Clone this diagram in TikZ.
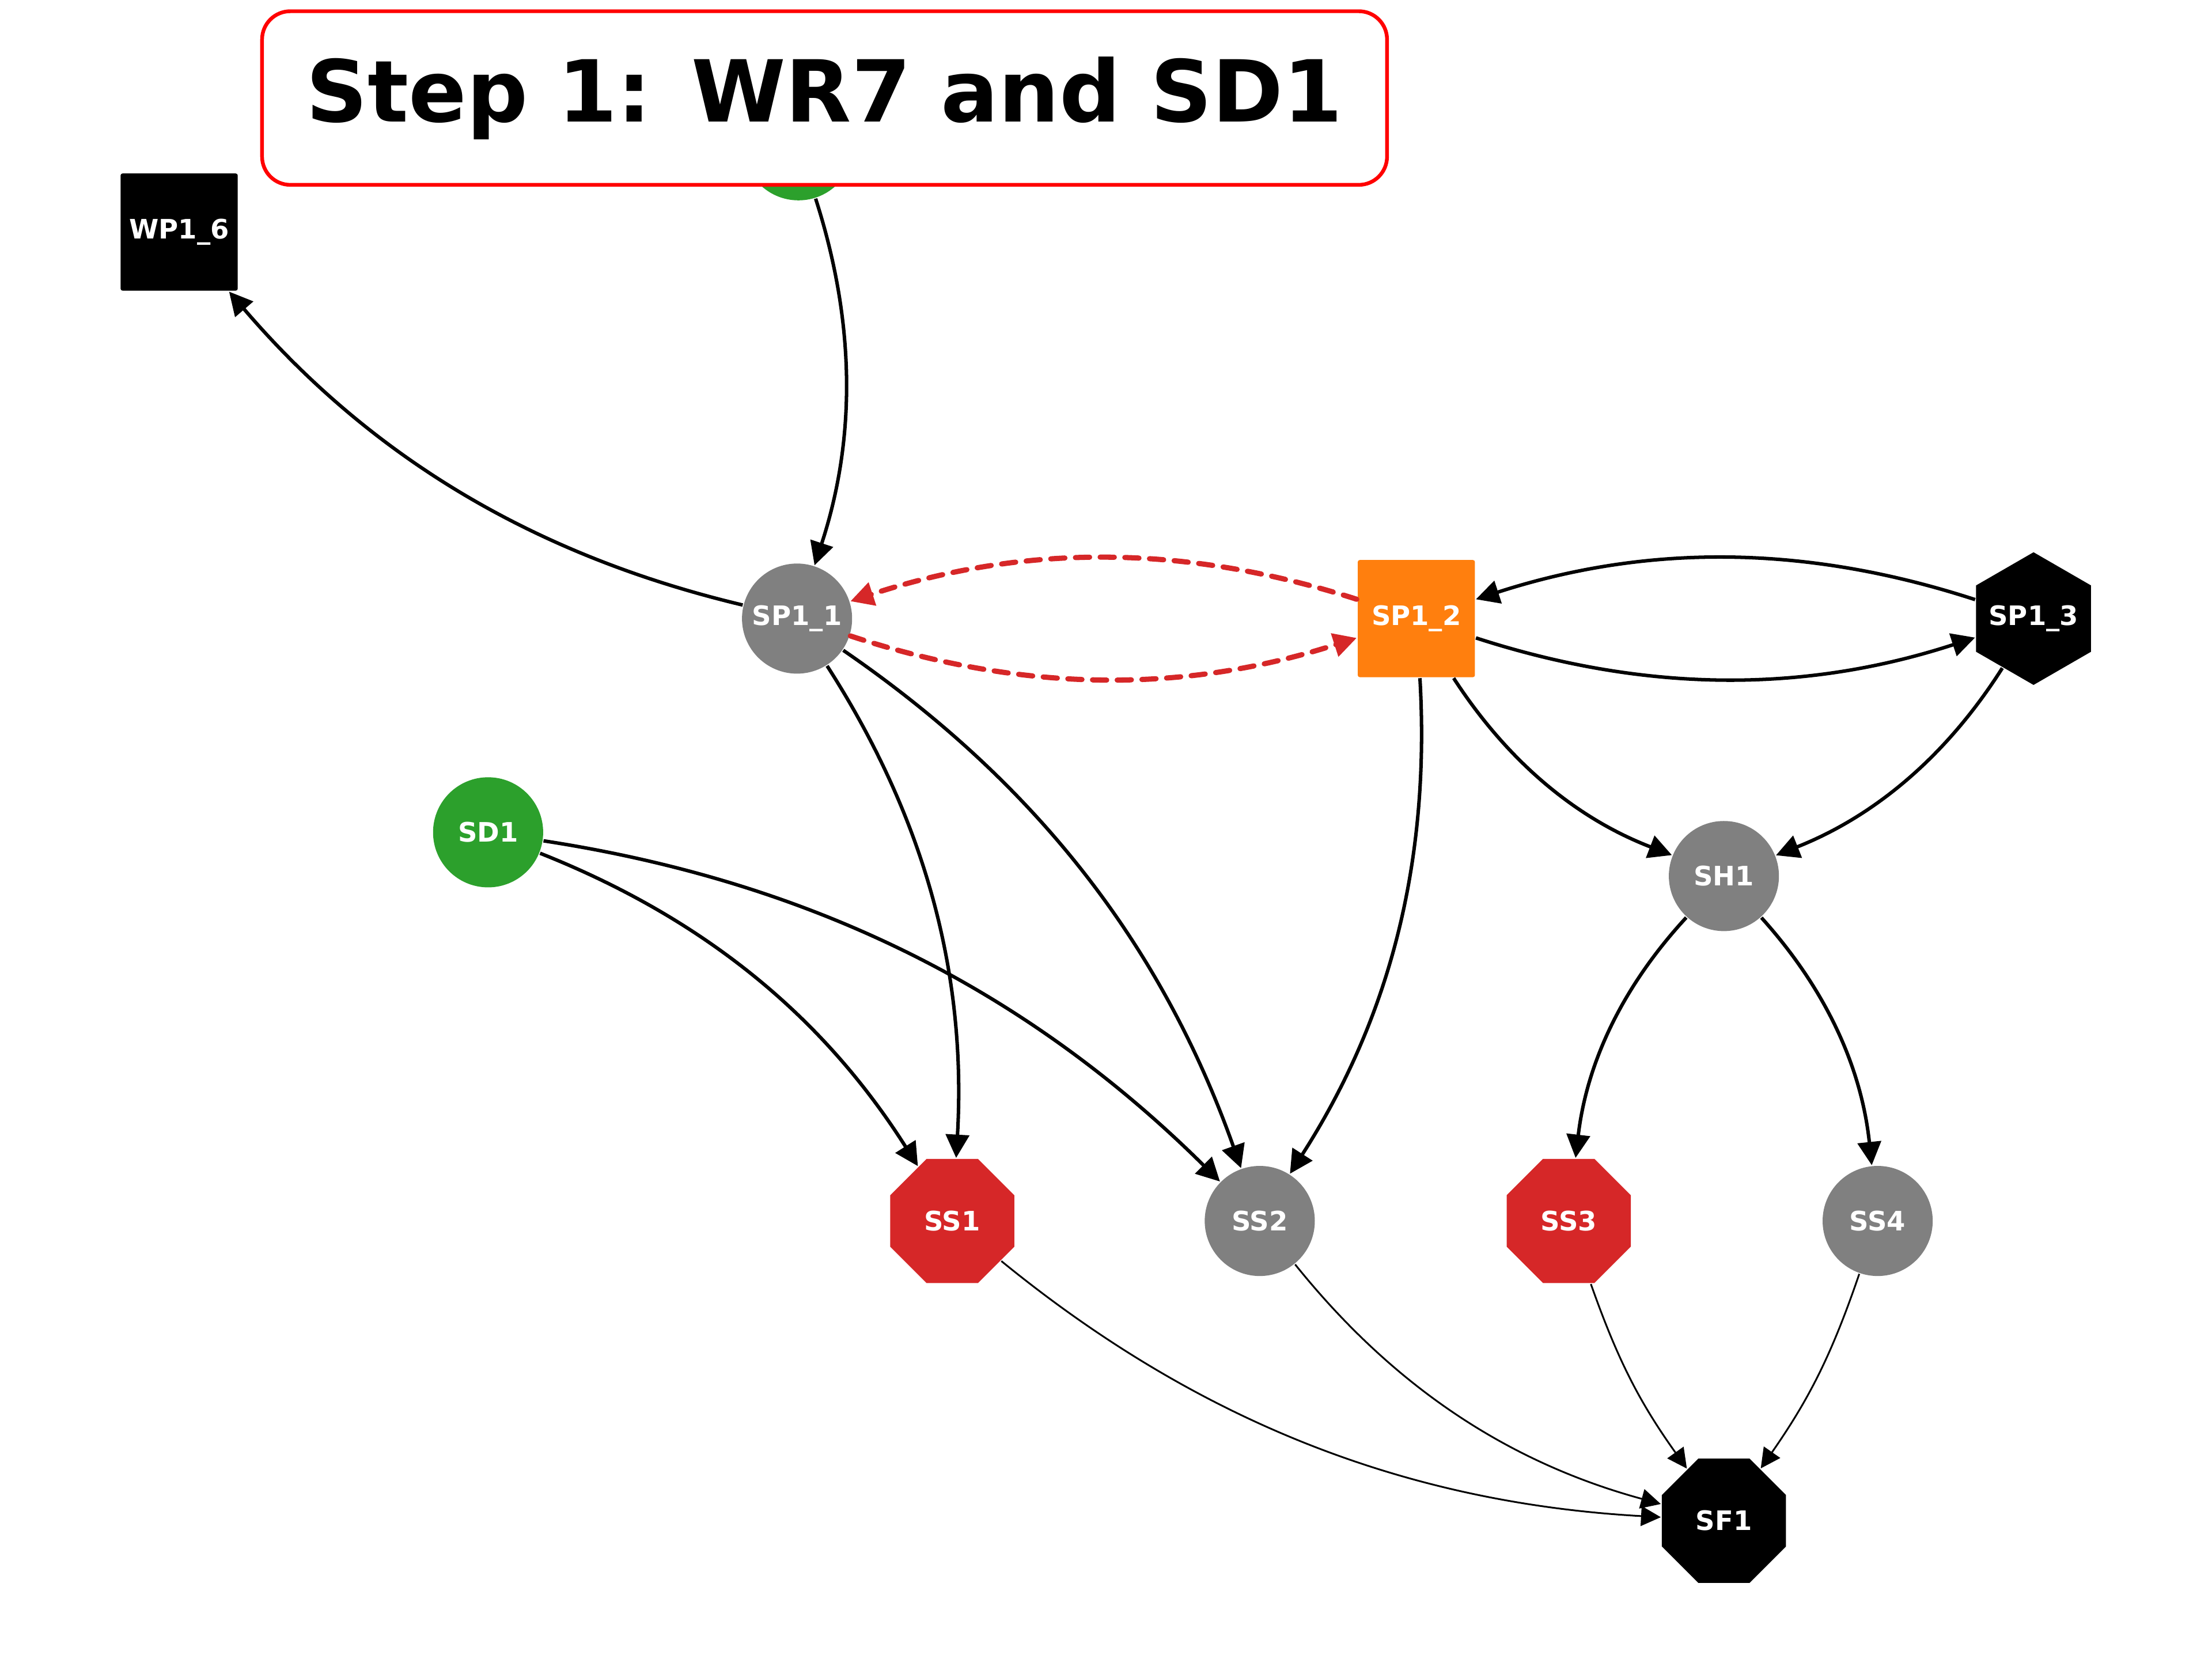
\documentclass[tikz,border=0pt]{standalone}
\usepackage{fontspec}
\setmainfont{DejaVu Sans}
\usetikzlibrary{arrows.meta,shapes.geometric}
\definecolor{cgreen}{HTML}{2CA02C}
\definecolor{cred}{HTML}{D62728}
\definecolor{corange}{HTML}{FF7F0E}
\definecolor{cgray}{HTML}{808080}
\begin{document}
\begin{tikzpicture}[x=0.01cm,y=-0.01cm,
  lbl/.style={text=white,font=\fontsize{5.4}{6}\selectfont\bfseries,inner sep=0pt},
  circ/.style={lbl,circle,minimum size=0.78cm},
  sq/.style={lbl,rectangle,minimum size=0.83cm,rounded corners=0.4pt},
  oct/.style={lbl,regular polygon,regular polygon sides=8,minimum size=0.952cm},
  hexa/.style={inner sep=0pt,regular polygon,regular polygon sides=6,shape border rotate=30,minimum size=0.94cm},
  thk/.style={line width=0.7pt,-{Triangle[length=0.165cm,width=0.165cm]}},
  thn/.style={line width=0.35pt,-{Triangle[length=0.14cm,width=0.14cm]}},
  dsh/.style={draw=cred,line width=1.05pt,dash pattern=on 0.1cm off 0.075cm,line cap=round,-{Triangle[length=0.165cm,width=0.165cm]}},
  bl/.style={bend left=18,looseness=0.92},
  br/.style={bend right=18,looseness=0.92}]
\fill[white] (0,0) rectangle (1568,1176);
\useasboundingbox (0,0) rectangle (1568,1176);
% nodes
\node[circ,fill=cgreen] (wr7) at (566,103) {};
\node[sq,fill=black] (wp16) at (127,164.5) {WP1\_6};
\node[circ,fill=cgray] (sp11) at (565,438.5) {SP1\_1};
\node[sq,fill=corange] (sp12) at (1004,438.5) {SP1\_2};
\node[hexa,fill=black,label={[lbl]center:SP1\_3}] (sp13) at (1441.5,438.5) {};
\node[circ,fill=cgreen] (sd1) at (346,590) {SD1};
\node[circ,fill=cgray] (sh1) at (1222,621) {SH1};
\node[oct,fill=cred] (ss1) at (675,865.5) {SS1};
\node[circ,fill=cgray] (ss2) at (893,865.5) {SS2};
\node[oct,fill=cred] (ss3) at (1112,865.5) {SS3};
\node[circ,fill=cgray] (ss4) at (1331,865.5) {SS4};
\node[oct,fill=black] (sf1) at (1222,1078) {SF1};
% edges
\draw[thk] (wr7) to[bl] (sp11);
\draw[thk] (sp11) to[bl] (wp16);
\draw[dsh] (sp12) to[br] (sp11);
\draw[dsh] (sp11) to[br] (sp12);
\draw[thk] (sp13) to[br] (sp12);
\draw[thk] (sp12) to[br] (sp13);
\draw[thk] (sp11) to[bl] (ss1);
\draw[thk] (sp11) to[bl] (ss2);
\draw[thk] (sp12) to[bl] (ss2);
\draw[thk] (sp12) to[br] (sh1);
\draw[thk] (sp13) to[bl] (sh1);
\draw[thk] (sd1) to[bl] (ss1);
\draw[thk] (sd1) to[bl] (ss2);
\draw[thk] (sh1) to[br] (ss3);
\draw[thk] (sh1) to[bl] (ss4);
\draw[thn] (ss1) to[br] (sf1);
\draw[thn] (ss2) to[br] (sf1);
\draw[thn] (ss3) to[bend right=8] (sf1);
\draw[thn] (ss4) to[bend left=8] (sf1);
% title
\node[draw=red,line width=0.75pt,rounded corners=0.2cm,fill=white,minimum width=7.97cm,minimum height=1.23cm,inner sep=0pt,font=\fontsize{17.25}{20}\selectfont\bfseries] (title) at (584.5,69.5) {Step 1: WR7 and SD1};
\end{tikzpicture}
\end{document}
